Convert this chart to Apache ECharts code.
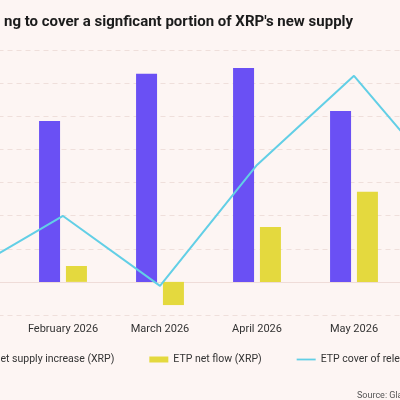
<!DOCTYPE html>
<html>
<head>
<meta charset="utf-8">
<script src="https://cdn.jsdelivr.net/npm/echarts@6/dist/echarts.min.js"></script>
<style>
  html, body { margin: 0; padding: 0; width: 400px; height: 400px; overflow: hidden; background: #fdf5f3; }
  /* the picture is a crop of a wider chart, so the chart is wider than the window */
  #chart { position: absolute; left: -100px; top: 0; width: 700px; height: 400px; }
</style>
</head>
<body>
<div id="chart"></div>
<script>
// months (Jan and Jun sit mostly outside the crop)
var months = ['January 2026', 'February 2026', 'March 2026', 'April 2026', 'May 2026', 'June 2026'];
// net supply increase, million XRP
var supplyIncrease = [260, 243, 314, 323, 258, 270];
// ETP net flow, million XRP
var etpFlow = [-19, 24, -35, 83, 136, 48];
// ETP cover of releases, %
var etpCover = [-7.2, 9.9, -11.2, 25.3, 52.2, 17.7];

var myChart = echarts.init(document.getElementById('chart'));

// thin line swatch for the line series (the moveTo points keep the box 6px tall)
var lineIcon = 'path://M0,0L0,0M0,2.1H19V3.9H0ZM0,6L0,6';

var option = {
    backgroundColor: '#fdf5f3',
    title: [{
        text: "ng to cover a signficant portion of XRP's new supply",
        left: 99,
        top: 10,
        textStyle: { fontFamily: 'Roboto', fontSize: 15, fontWeight: 'bold', color: '#1b1b1b' }
    }, {
        text: 'Source: Glassnode',
        left: 452,
        top: 386,
        textStyle: { fontFamily: 'Roboto', fontSize: 9, fontWeight: 'normal', color: '#555' }
    }],
    legend: {
        left: 64,
        top: 349,
        itemWidth: 19,
        itemHeight: 6,
        itemGap: 35,
        textStyle: { fontFamily: 'Roboto', fontSize: 10.5, color: '#333' },
        data: [
            { name: 'Net supply increase (XRP)', icon: 'rect' },
            { name: 'ETP net flow (XRP)', icon: 'rect' },
            { name: 'ETP cover of releases (%)', icon: lineIcon }
        ]
    },
    grid: { left: 17.5, width: 582, top: 50, height: 265 },
    xAxis: {
        type: 'category',
        data: months,
        axisLine: { show: true, onZero: true, lineStyle: { color: '#efdcd8', width: 1 } },
        axisTick: { show: false },
        axisLabel: { interval: 0, fontFamily: 'Roboto', fontSize: 11, color: '#333', margin: 9 }
    },
    yAxis: [{
        type: 'value',
        min: -50,
        max: 350,
        interval: 50,
        axisLabel: { show: false },
        axisLine: { show: false },
        splitLine: { lineStyle: { color: '#efdfdb', type: [5, 4], width: 1 } }
    }, {
        type: 'value',
        min: -20,
        max: 60,
        interval: 10,
        axisLabel: { show: false },
        axisLine: { show: false },
        splitLine: { show: false }
    }],
    series: [{
        name: 'Net supply increase (XRP)',
        type: 'bar',
        data: supplyIncrease,
        barWidth: 21,
        barGap: '28%',
        itemStyle: { color: '#6a50f4' }
    }, {
        name: 'ETP net flow (XRP)',
        type: 'bar',
        data: etpFlow,
        barWidth: 21,
        itemStyle: { color: '#e4d93e' }
    }, {
        name: 'ETP cover of releases (%)',
        type: 'line',
        yAxisIndex: 1,
        data: etpCover,
        symbol: 'none',
        lineStyle: { color: '#62cfe6', width: 2 },
        itemStyle: { color: '#62cfe6' }
    }]
};

myChart.setOption(option);
</script>
</body>
</html>
